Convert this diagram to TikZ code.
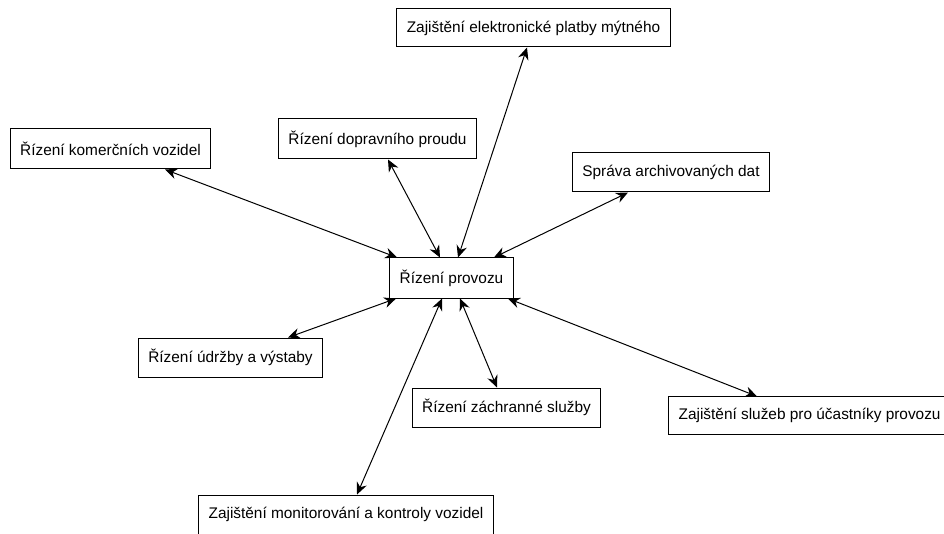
\documentclass[tikz,border=0pt]{standalone}
\usepackage{fontspec}
\setmainfont{Liberation Sans}
\usepackage{tikz}
\usetikzlibrary{arrows.meta, calc}

\begin{document}
\begin{tikzpicture}[
    x=0.75pt, y=-0.75pt,
    funcbox/.style={draw=black, fill=white, rectangle, line width=0.75pt, align=center, inner xsep=7.6pt, inner ysep=0pt, font=\fontsize{11.55}{14}\selectfont, text=black, minimum height=29.25pt},
    arrow/.style={{Stealth[length=9pt,width=8pt,inset=3pt]}-{Stealth[length=9pt,width=8pt,inset=3pt]}, line width=0.75pt, draw=black}
]
\useasboundingbox (0,0) rectangle (944,534);

% Central node
\node (provoz) [funcbox, minimum height=30pt] at (451.5,278) {Řízení provozu};

% Surrounding functional areas
\node (myto) [funcbox, minimum height=28.5pt] at (533.5,28) {Zajištění elektronické platby mýtného};
\node (komerc) [funcbox, minimum height=30pt] at (110.5,149) {Řízení komerčních vozidel};
\node (proud) [funcbox, minimum height=30pt] at (377.5,139) {Řízení dopravního proudu};
\node (archiv) [funcbox] at (671,172.5) {Správa archivovaných dat};
\node (udrzba) [funcbox] at (230.5,357.5) {Řízení údržby a výstaby};
\node (zachran) [funcbox] at (506.5,407.5) {Řízení záchranné služby};
\node (ucast) [funcbox, minimum height=28pt, anchor=west] at (668,415.5) {Zajištění služeb pro účastníky provozu};
\node (monitor) [funcbox, anchor=west] at (198,514.5) {Zajištění monitorování a kontroly vozidel};

% Connections
\draw [arrow] ($(komerc.south)+(54.5,0)$) -- ($(provoz.north west)+(8,0)$);
\draw [arrow] ($(proud.south)+(10.5,0)$) -- ($(provoz.north)+(-11.5,0)$);
\draw [arrow] ($(myto.south)+(-6.5,0)$) -- ($(provoz.north)+(6.5,0)$);
\draw [arrow] ($(archiv.south)+(-43,0)$) -- ($(provoz.north east)+(-20,0)$);

\draw [arrow] ($(udrzba.north)+(57.5,0)$) -- ($(provoz.south west)+(7,0)$);
\draw [arrow] ($(zachran.north)+(-9.5,0)$) -- ($(provoz.south)+(8.5,0)$);
\draw [arrow] ($(monitor.north west)+(159,0)$) -- ($(provoz.south)+(-9.5,0)$);
\draw [arrow] ($(ucast.north west)+(89,0)$) -- ($(provoz.south east)+(-6,0)$);

\end{tikzpicture}
\end{document}
